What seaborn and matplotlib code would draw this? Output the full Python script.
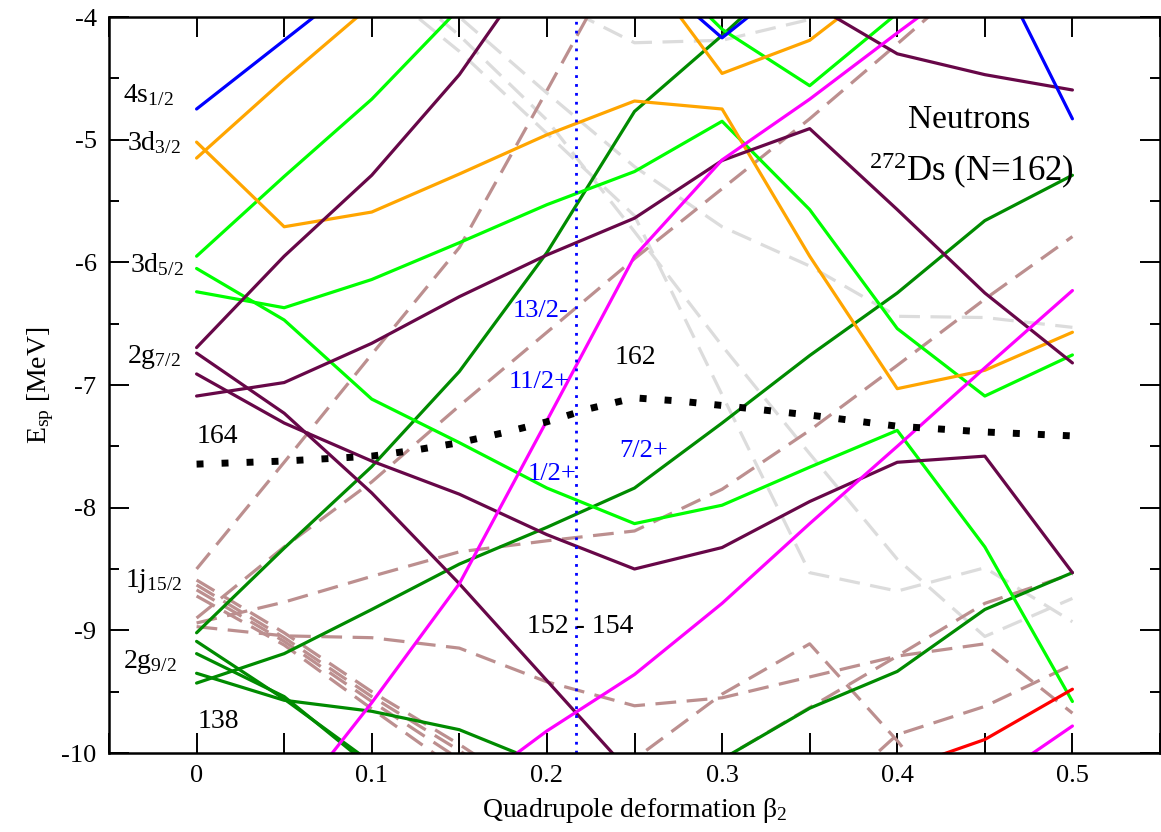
import numpy as np
import pandas as pd
import matplotlib
matplotlib.use("Agg")
import matplotlib.pyplot as plt
import seaborn as sns
from matplotlib.ticker import MultipleLocator

n = np.nan

# ------------------------
# deformation grid
# ------------------------
beta = [0.0, 0.05, 0.10, 0.15, 0.20, 0.25, 0.30, 0.35, 0.40, 0.45, 0.50]

# 4s1/2 and other blue levels
blue_1 = [-4.75, -4.19, -3.63, n, n, n, n, n, n, n, n]
blue_2 = [n, n, n, n, n, -3.55, -4.17, -3.60, n, n, n]
blue_3 = [n, n, n, n, n, n, n, n, n, -3.40, -4.83]

# 3d3/2 (orange)
orange_1 = [-5.15, -4.51, -3.90, n, n, n, n, n, n, n, n]
orange_2 = [-5.02, -5.71, -5.59, -5.28, -4.96, -4.685, -4.75, -5.95, -7.03, -6.88, -6.57]
orange_3 = [n, n, n, n, n, -3.50, -4.46, -4.19, -3.64, n, n]

# 3d5/2 (green)
green_1 = [-5.95, -5.30, -4.67, -3.93, n, n, n, n, n, n, n]
green_2 = [-6.05, -6.47, -7.115, -7.47, -7.84, -8.13, -7.98, -7.67, -7.37, -8.32, -9.58]
green_3 = [-6.24, -6.37, -6.14, -5.84, -5.53, -5.26, -4.85, -5.57, -6.54, -7.09, -6.755]
green_4 = [n, n, n, n, n, -3.40, -4.10, -4.56, -3.97, -3.38, n]

# 2g7/2 (maroon)
maroon_1 = [-6.695, -5.95, -5.29, -4.47, -3.45, n, n, n, n, n, n]
maroon_2 = [-7.09, -6.98, -6.66, -6.28, -5.94, -5.64, -5.17, -4.91, -5.57, -6.25, -6.82]
maroon_3 = [-6.74, -7.23, -7.88, -8.62, -9.41, -10.20, n, n, n, n, n]
maroon_4 = [-6.91, -7.31, -7.62, -7.89, -8.22, -8.50, -8.325, -7.95, -7.63, -7.58, -8.53]
maroon_5 = [n, n, n, n, n, n, n, -3.88, -4.30, -4.47, -4.595]

# 2g9/2 (dark green)
dgreen_1 = [-9.02, -8.33, -7.665, -6.89, -5.92, -4.77, -4.15, -3.50, n, n, n]
dgreen_2 = [-9.09, -9.56, -10.08, n, n, n, n, n, n, n, n]
dgreen_3 = [-9.19, -9.54, -10.12, n, n, n, n, n, n, n, n]
dgreen_4 = [-9.35, -9.57, -9.66, -9.81, -10.10, n, n, n, n, n, n]
dgreen_5 = [-9.43, -9.19, -8.83, -8.46, -8.16, -7.84, -7.31, -6.76, -6.25, -5.66, -5.29]
dgreen_6 = [n, n, n, n, n, -10.50, -10.05, -9.635, -9.335, -8.83, -8.53]

# 1i11/2 (magenta)
magenta_1 = [n, -10.50, -9.59, -8.62, -7.29, -5.95, -5.165, -4.67, -4.13, -3.60, n]
magenta_2 = [n, n, n, -10.35, -9.82, -9.36, -8.78, -8.13, -7.50, -6.86, -6.23]
magenta_3 = [n, n, n, n, n, n, n, n, n, -10.27, -9.78]

red_1 = [n, n, n, n, n, n, n, n, -10.14, -9.89, -9.48]

# 1j15/2 (brown, dashed)
brown_1 = [-8.50, -7.63, -6.75, -5.88, -4.60, -3.30, n, n, n, n, n]
brown_2 = [-8.90, -8.32, -7.79, -7.17, -6.57, -5.97, -5.40, -4.83, -4.22, -3.60, n]
brown_3 = [-8.94, -8.77, -8.56, -8.36, -8.27, -8.19, -7.85, -7.37, -6.84, -6.30, -5.79]
brown_4 = [-8.97, -9.045, -9.06, -9.145, -9.42, -9.615, -9.55, -9.38, -9.21, -9.11, -9.675]
brown_5 = [-8.59, -9.02, -9.50, -9.93, -10.40, n, n, n, n, n, n]
brown_6 = [-8.63, -9.06, -9.54, -9.98, -10.45, n, n, n, n, n, n]
brown_7 = [-8.67, -9.09, -9.58, -10.05, -10.50, n, n, n, n, n, n]
brown_8 = [-8.72, -9.12, -9.64, -10.15, n, n, n, n, n, n, n]
brown_9 = [n, n, n, n, -10.60, -10.05, -9.52, -9.11, -9.90, -10.80, n]
brown_10 = [n, n, n, n, n, n, n, -10.50, -9.85, -9.62, -9.28]
brown_11 = [n, n, n, n, n, -10.50, -10.05, -9.63, -9.21, -8.78, -8.54]

# grey, dashed
grey_1 = [n, n, -3.40, -4.00, -4.62, -5.22, -5.71, -6.03, -6.44, -6.45, -6.53]
grey_2 = [n, n, -3.70, -4.28, -4.95, -5.62, -7.08, -8.53, -8.68, -8.49, -8.93]
grey_3 = [n, n, -3.55, -4.15, -4.84, -5.75, -6.68, -7.56, -8.42, -9.05, -8.74]
grey_4 = [n, n, n, n, -3.85, -4.21, -4.19, -4.02, -3.80, n, n]

# Fermi level (dotted)
beta_fermi = [0.0, 0.05, 0.10, 0.125, 0.15, 0.175, 0.20, 0.225, 0.25, 0.275, 0.30, 0.35, 0.40, 0.45, 0.50]
e_fermi = [-7.645, -7.62, -7.58, -7.53, -7.47, -7.39, -7.30, -7.19, -7.105, -7.13, -7.167,
           -7.245, -7.336, -7.383, -7.415]

beta_ds = 0.2166

# ------------------------
# ESTILO
# ------------------------
sns.set_style("ticks")
plt.rcParams["font.family"] = ["Liberation Serif", "DejaVu Serif"]
plt.rcParams["mathtext.fontset"] = "custom"
plt.rcParams["mathtext.rm"] = "Liberation Serif"
plt.rcParams["mathtext.it"] = "Liberation Serif:italic"
plt.rcParams["mathtext.bf"] = "Liberation Serif:bold"
plt.rcParams["axes.unicode_minus"] = False
for k in ("text.color", "axes.labelcolor", "axes.edgecolor", "xtick.color", "ytick.color"):
    plt.rcParams[k] = "black"

colors = {
    "blue": "#0000ff", "orange": "#ffa500", "green": "#00ff00",
    "maroon": "#670748", "dgreen": "#008b00", "magenta": "#ff00ff",
    "red": "#ff0000", "brown": "#bc8f8f", "grey": "#dcdcdc",
}

levels = [
    ("grey", [grey_1, grey_2, grey_3, grey_4]),
    ("brown", [brown_1, brown_2, brown_3, brown_4, brown_5, brown_6, brown_7,
               brown_8, brown_9, brown_10, brown_11]),
    ("dgreen", [dgreen_1, dgreen_2, dgreen_3, dgreen_4, dgreen_5, dgreen_6]),
    ("green", [green_1, green_2, green_3, green_4]),
    ("orange", [orange_1, orange_2, orange_3]),
    ("maroon", [maroon_1, maroon_2, maroon_3, maroon_4, maroon_5]),
    ("magenta", [magenta_1, magenta_2, magenta_3]),
    ("red", [red_1]),
    ("blue", [blue_1, blue_2, blue_3]),
]

rows = []
for grupo, lista in levels:
    for i, vals in enumerate(lista):
        for b, e in zip(beta, vals):
            rows.append({"beta": b, "E": e, "grupo": grupo, "nivel": f"{grupo}_{i}"})
df = pd.DataFrame(rows).dropna()

fig = plt.figure(figsize=(11.61, 8.32), dpi=100)
ax = fig.add_axes([109 / 1161, 79 / 832, 1051 / 1161, 736 / 832])

for nivel, sub in df.groupby("nivel", sort=False):
    grupo = sub["grupo"].iloc[0]
    ls = (0, (6.5, 3.3)) if grupo in ("brown", "grey") else "-"
    sns.lineplot(data=sub, x="beta", y="E", color=colors[grupo], lw=2.3,
                 linestyle=ls, sort=False, estimator=None, ax=ax, legend=False)

sns.lineplot(x=beta_fermi, y=e_fermi, color="black", lw=5, linestyle=(0, (1, 2.6)),
             dash_capstyle="butt", sort=False, estimator=None, ax=ax)

ax.axvline(beta_ds, color="blue", lw=2, linestyle=(0, (1, 2.2)))

# ------------------------
# EIXOS
# ------------------------
ax.set_xlim(-0.05, 0.55)
ax.set_ylim(-10, -4)
ax.set_xticks([0, 0.1, 0.2, 0.3, 0.4, 0.5])
ax.set_xticklabels(["0", "0.1", "0.2", "0.3", "0.4", "0.5"])
ax.xaxis.set_minor_locator(MultipleLocator(0.05))
ax.set_yticks([-10, -9, -8, -7, -6, -5, -4])
ax.yaxis.set_minor_locator(MultipleLocator(0.5))
ax.tick_params(axis="both", which="both", direction="in", top=True, right=True,
               width=1.4, labelsize=19, colors="black")
ax.tick_params(axis="x", which="both", length=14.4, pad=9)
ax.tick_params(axis="y", which="major", length=14.4, pad=9)
ax.tick_params(axis="y", which="minor", length=7.2)
for s in ax.spines.values():
    s.set_linewidth(1.8)
    s.set_color("black")

ax.set_xlabel("Quadrupole deformation β$_2$", fontsize=20, labelpad=6)
ax.set_ylabel("E$_{\\mathrm{sp}}$ [MeV]", fontsize=20, labelpad=4)

# ------------------------
# TEXTOS
# ------------------------
txt = dict(ha="left", va="baseline", fontsize=20, color="black")
ax.text(-0.042, -4.69, "4s$_{1/2}$", **txt)
ax.text(-0.040, -5.084, "3d$_{3/2}$", **txt)
ax.text(-0.038, -6.076, "3d$_{5/2}$", **txt)
ax.text(-0.0396, -6.82, "2g$_{7/2}$", **txt)
ax.text(-0.041, -8.643, "1j$_{15/2}$", **txt)
ax.text(-0.042, -9.308, "2g$_{9/2}$", **txt)
ax.text(0.0, -7.474, "164", **txt)
ax.text(0.0007, -9.797, "138", **txt)
ax.text(0.2388, -6.828, "162", **txt)
ax.text(0.1884, -9.023, "152 - 154", **txt)

azul = dict(ha="left", va="baseline", fontsize=19, color="blue")
ax.text(0.1803, -6.447, "13/2-", **azul)
ax.text(0.1783, -7.021, "11/2+", **azul)
ax.text(0.1892, -7.773, "1/2+", **azul)
ax.text(0.2415, -7.589, "7/2+", **azul)

ax.text(0.4062, -4.907, "Neutrons", ha="left", va="baseline", fontsize=24, color="black")
ax.text(0.3837, -5.342, "$^{272}$Ds (N=162)", ha="left", va="baseline", fontsize=25,
        color="black")

plt.savefig("out.png", dpi=100)
